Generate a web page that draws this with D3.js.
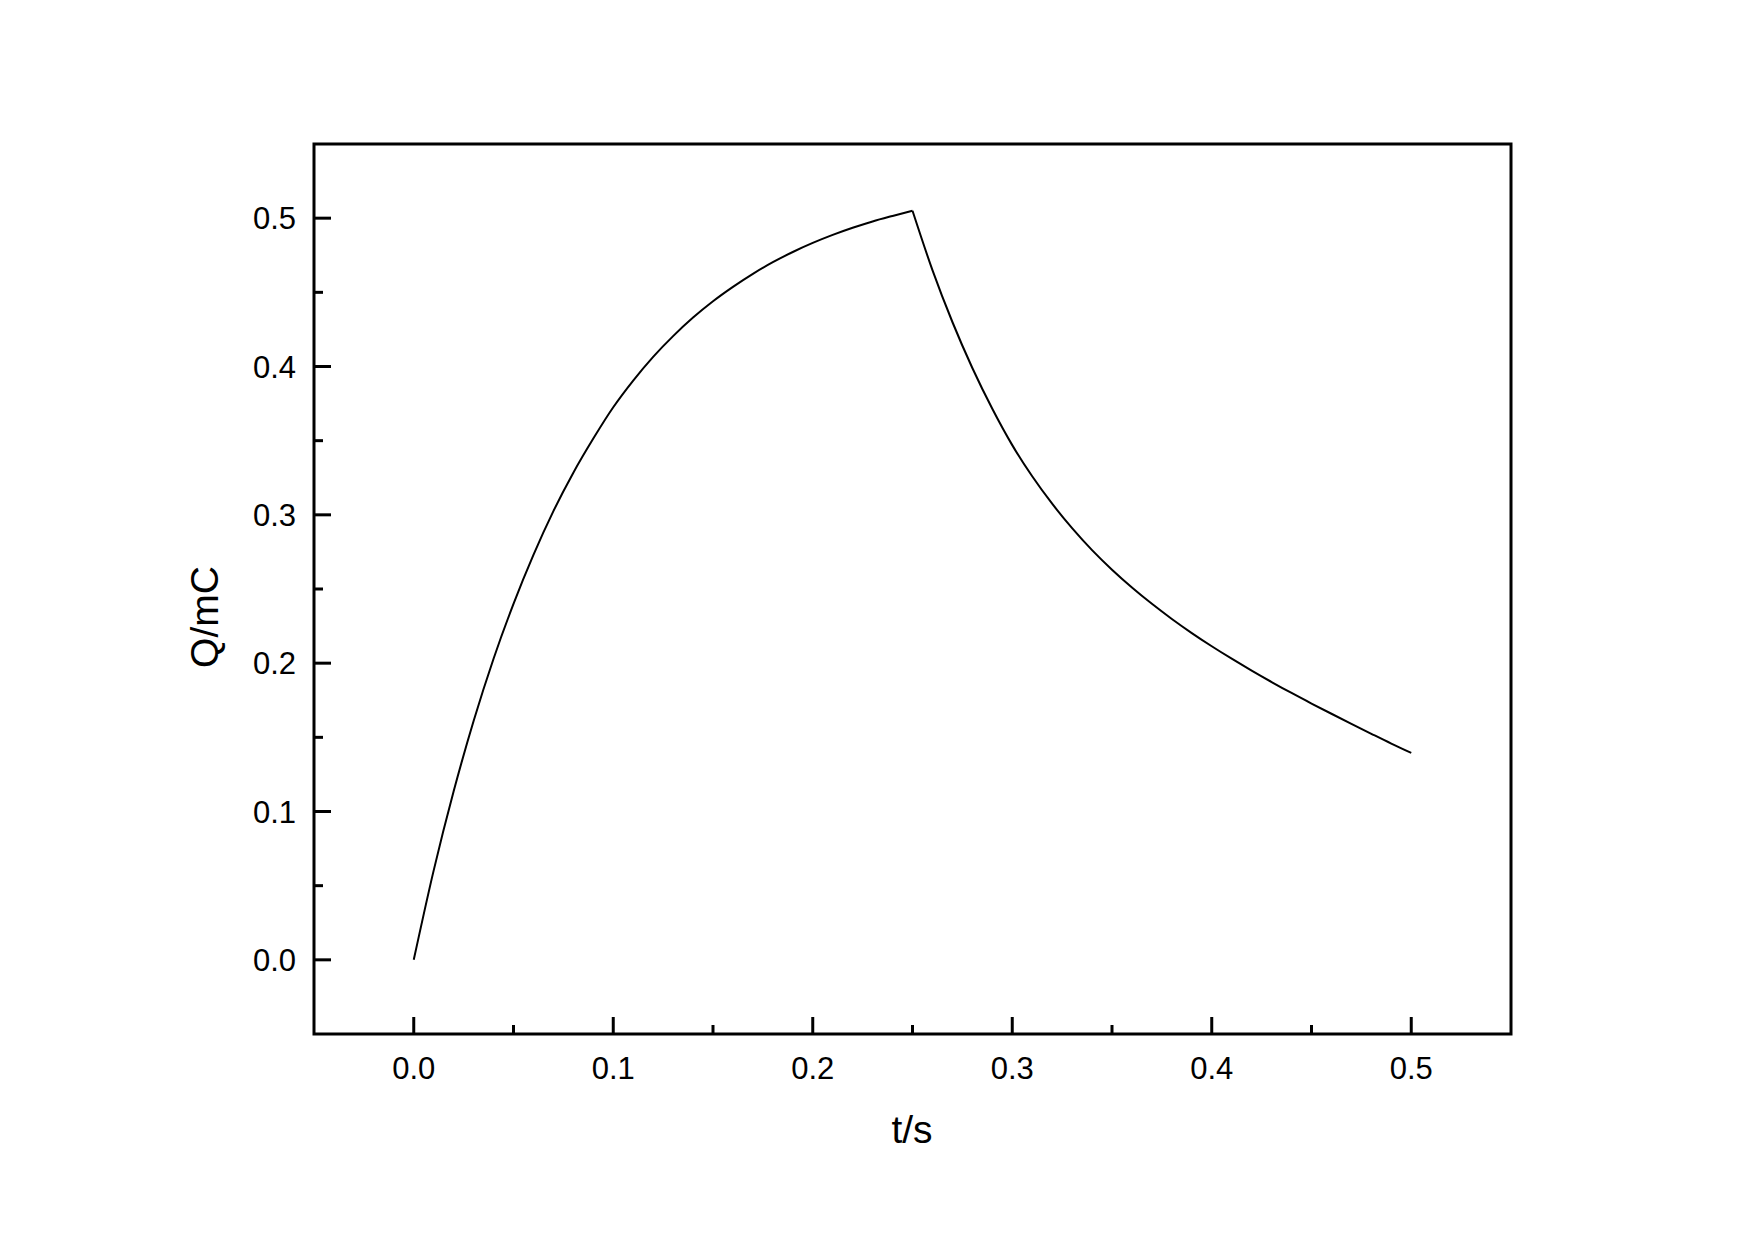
<!DOCTYPE html>
<html>
<meta charset="utf-8">
<head>
<style>
  body { margin: 0; background: #fff; }
  text { font-family: "Liberation Sans", Arial, sans-serif; fill: #000; }
</style>
<script src="https://d3js.org/d3.v7.min.js"></script>
</head>
<body>
<svg id="chart" width="1755" height="1240"></svg>
<script>
// charging (0 - 0.25 s) then discharging (0.25 - 0.5 s)
var tCharge = [0, 0.01, 0.02, 0.03, 0.04, 0.05, 0.06, 0.07, 0.08, 0.09, 0.10, 0.11, 0.12,
               0.13, 0.14, 0.15, 0.16, 0.17, 0.18, 0.19, 0.20, 0.21, 0.22, 0.23, 0.24, 0.25];
var qCharge = [0, 0.0603, 0.1136, 0.161, 0.203, 0.240, 0.273, 0.3025, 0.3284, 0.3514, 0.3725, 0.3905, 0.4065,
               0.4205, 0.433, 0.444, 0.4537, 0.4625, 0.4703, 0.4772, 0.4833, 0.4887, 0.4935, 0.4978, 0.5015, 0.505];
var tDischarge = [0.25, 0.26, 0.27, 0.28, 0.29, 0.30, 0.31, 0.32, 0.33, 0.34, 0.35, 0.36, 0.37,
                  0.38, 0.39, 0.40, 0.41, 0.42, 0.43, 0.44, 0.45, 0.46, 0.47, 0.48, 0.49, 0.50];
var qDischarge = [0.505, 0.465, 0.430, 0.399, 0.3715, 0.347, 0.326, 0.3075, 0.291, 0.2762, 0.263, 0.251, 0.240,
                  0.2298, 0.2203, 0.2114, 0.203, 0.195, 0.1873, 0.1799, 0.1728, 0.1659, 0.1591, 0.1524, 0.1458, 0.1395];

var xMajor = [0, 0.1, 0.2, 0.3, 0.4, 0.5];
var xMinor = [0.05, 0.15, 0.25, 0.35, 0.45];
var yMajor = [0, 0.1, 0.2, 0.3, 0.4, 0.5];
var yMinor = [0.05, 0.15, 0.25, 0.35, 0.45];

var svg = d3.select("#chart");
var pLeft = 314, pRight = 1511, pTop = 144, pBottom = 1034;

var x = d3.scaleLinear().domain([-0.05, 0.55]).range([pLeft, pRight]);
var y = d3.scaleLinear().domain([-0.05, 0.55]).range([pBottom, pTop]);

// ticks (inside)
var g = svg.append("g").attr("stroke", "#000").attr("stroke-width", 3);
g.selectAll(".xmaj").data(xMajor).enter().append("line")
  .attr("x1", d => x(d)).attr("x2", d => x(d))
  .attr("y1", pBottom).attr("y2", pBottom - 17);
g.selectAll(".xmin").data(xMinor).enter().append("line")
  .attr("x1", d => x(d)).attr("x2", d => x(d))
  .attr("y1", pBottom).attr("y2", pBottom - 9);
g.selectAll(".ymaj").data(yMajor).enter().append("line")
  .attr("y1", d => y(d)).attr("y2", d => y(d))
  .attr("x1", pLeft).attr("x2", pLeft + 17);
g.selectAll(".ymin").data(yMinor).enter().append("line")
  .attr("y1", d => y(d)).attr("y2", d => y(d))
  .attr("x1", pLeft).attr("x2", pLeft + 9);

// tick labels
var fmt = d3.format(".1f");
svg.selectAll(".xl").data(xMajor).enter().append("text")
  .attr("x", d => x(d)).attr("y", 1079)
  .attr("text-anchor", "middle").attr("font-size", 31)
  .text(fmt);
svg.selectAll(".yl").data(yMajor).enter().append("text")
  .attr("x", 296).attr("y", d => y(d) + 11)
  .attr("text-anchor", "end").attr("font-size", 31)
  .text(fmt);

// axis titles
svg.append("text").attr("x", 912).attr("y", 1143)
  .attr("text-anchor", "middle").attr("font-size", 39).text("t/s");
svg.append("text").attr("transform", "translate(218,617) rotate(-90)")
  .attr("text-anchor", "middle").attr("font-size", 39).text("Q/mC");

// curve
var pts = tCharge.map((t, i) => [t, qCharge[i]]);
var pts2 = tDischarge.map((t, i) => [t, qDischarge[i]]);
var line = d3.line().x(d => x(d[0])).y(d => y(d[1])).curve(d3.curveMonotoneX);
svg.append("path").datum(pts).attr("d", line)
  .attr("fill", "none").attr("stroke", "#000").attr("stroke-width", 2);
svg.append("path").datum(pts2).attr("d", line)
  .attr("fill", "none").attr("stroke", "#000").attr("stroke-width", 2);

// frame
svg.append("rect").attr("x", pLeft).attr("y", pTop)
  .attr("width", pRight - pLeft).attr("height", pBottom - pTop)
  .attr("fill", "none").attr("stroke", "#000").attr("stroke-width", 3);
</script>
</body>
</html>
